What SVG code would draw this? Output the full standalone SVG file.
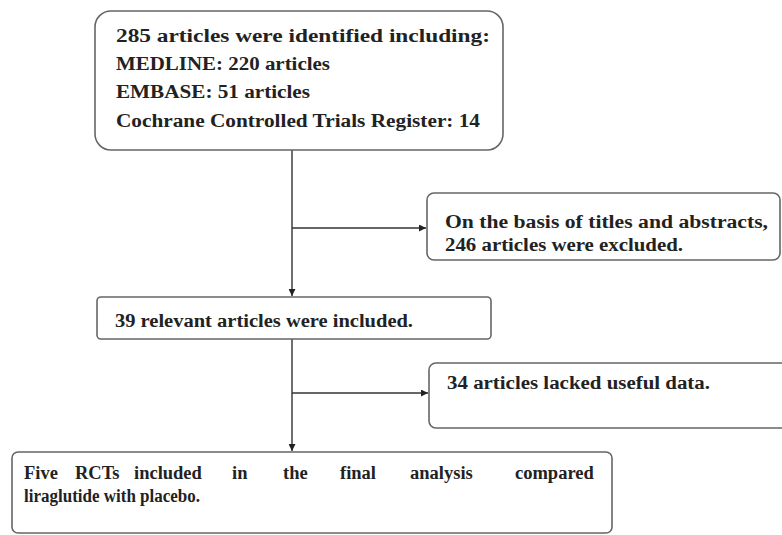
<svg xmlns="http://www.w3.org/2000/svg" width="782" height="535" viewBox="0 0 782 535">
<defs>
<marker id="arr" viewBox="0 0 10 10" refX="10" refY="5" markerWidth="7" markerHeight="7" markerUnits="userSpaceOnUse" orient="auto">
<path d="M0,0 L10,5 L0,10 z" fill="#222"/>
</marker>
<style>
.box{fill:#fff;stroke:#666;stroke-width:1.6}
.t{font-family:"Liberation Serif","Times New Roman",serif;font-weight:bold;font-size:18.5px;fill:#222}
.c{stroke:#333;stroke-width:1.4;fill:none}
</style>
</defs>
<rect width="782" height="535" fill="#fff"/>
<g id="connectors">
<line class="c" x1="292" y1="150" x2="292" y2="296" marker-end="url(#arr)"/>
<line class="c" x1="292" y1="228" x2="426" y2="228" marker-end="url(#arr)"/>
<line class="c" x1="292" y1="339" x2="292" y2="451" marker-end="url(#arr)"/>
<line class="c" x1="292" y1="393" x2="428" y2="393" marker-end="url(#arr)"/>
</g>
<g id="n1">
<rect class="box" x="95" y="11" width="408" height="139" rx="16"/>
<text class="t" x="116" y="42" textLength="374" lengthAdjust="spacingAndGlyphs">285 articles were identified including:</text>
<text class="t" x="116" y="70" textLength="214" lengthAdjust="spacingAndGlyphs">MEDLINE: 220 articles</text>
<text class="t" x="116" y="98" textLength="194" lengthAdjust="spacingAndGlyphs">EMBASE: 51 articles</text>
<text class="t" x="116" y="127" textLength="364" lengthAdjust="spacingAndGlyphs">Cochrane Controlled Trials Register: 14</text>
</g>
<g id="n2">
<rect class="box" x="427" y="193" width="353" height="67" rx="7"/>
<text class="t" x="445" y="228" textLength="323" lengthAdjust="spacingAndGlyphs">On the basis of titles and abstracts,</text>
<text class="t" x="445" y="251" textLength="238" lengthAdjust="spacingAndGlyphs">246 articles were excluded.</text>
</g>
<g id="n3">
<rect class="box" x="97" y="297" width="394" height="42" rx="4"/>
<text class="t" x="115" y="327" textLength="298" lengthAdjust="spacingAndGlyphs">39 relevant articles were included.</text>
</g>
<g id="n4">
<rect class="box" x="429" y="363" width="360" height="65" rx="7"/>
<text class="t" x="447" y="389" textLength="263" lengthAdjust="spacingAndGlyphs">34 articles lacked useful data.</text>
</g>
<g id="n5">
<rect class="box" x="12" y="452" width="600" height="81" rx="6"/>
<text class="t" y="479"><tspan x="24">Five</tspan><tspan x="75">RCTs</tspan><tspan x="134">included</tspan><tspan x="232">in</tspan><tspan x="283">the</tspan><tspan x="340">final</tspan><tspan x="410">analysis</tspan><tspan x="515">compared</tspan></text>
<text class="t" x="24" y="502" textLength="176" lengthAdjust="spacingAndGlyphs">liraglutide with placebo.</text>
</g>
</svg>
